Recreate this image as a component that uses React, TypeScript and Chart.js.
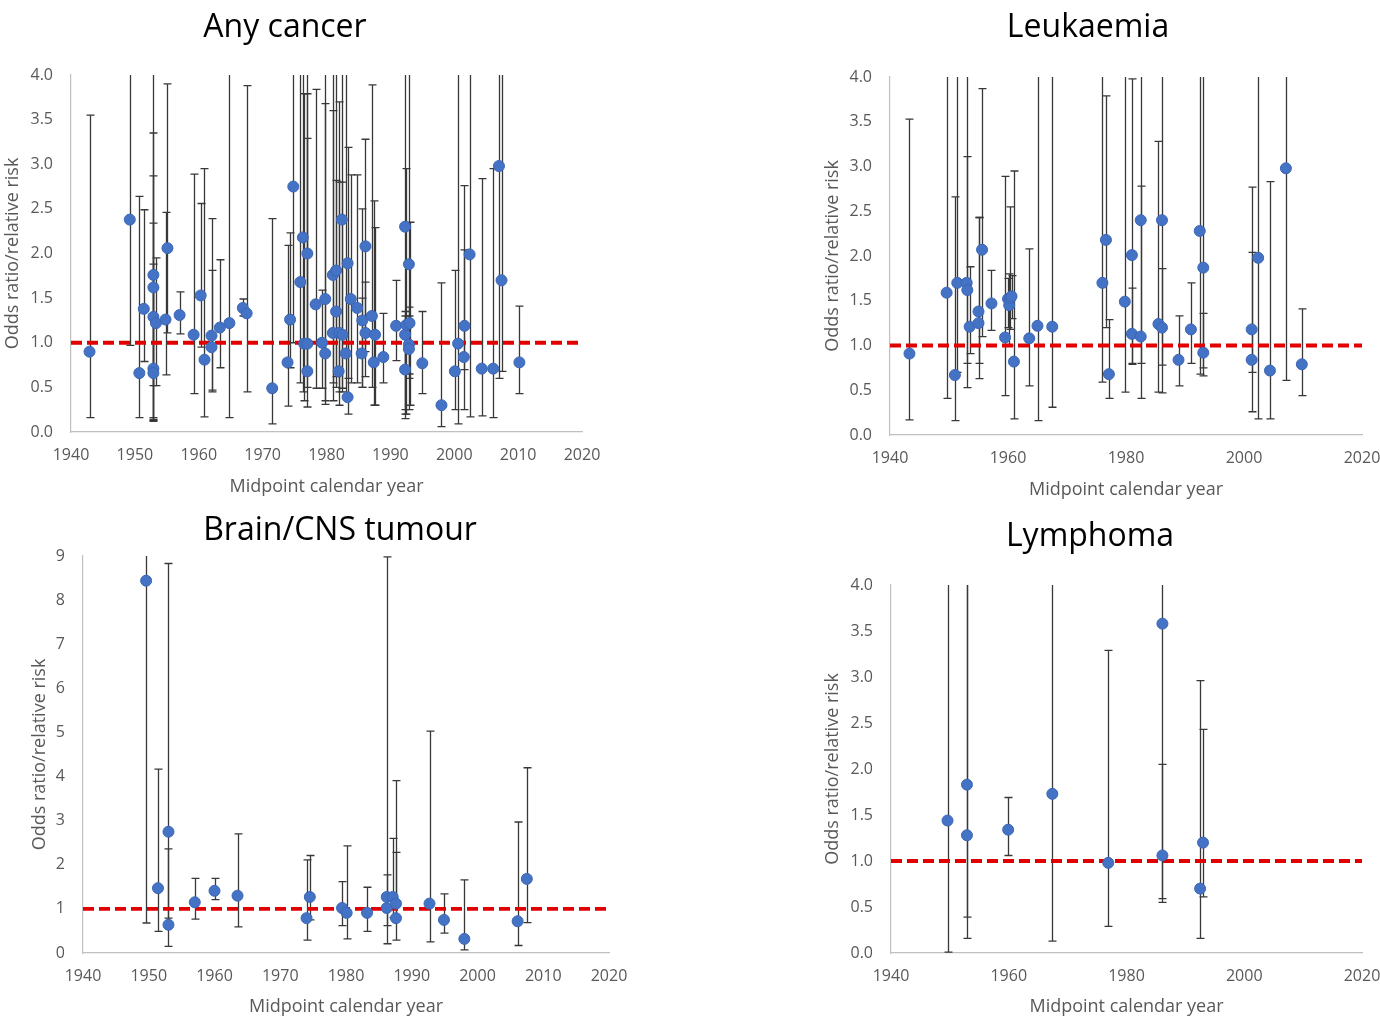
import React, { useEffect, useRef } from 'react';
import { Chart, registerables } from 'chart.js';
Chart.register(...registerables);

// ---------- Any cancer ----------
const anyYear = [
  1942.9, 1949.2, 1950.7, 1951.4, 1952.9, 1952.9, 1952.9, 1952.9, 1952.9, 1953.3,
  1954.8, 1955.1, 1957.0, 1959.2, 1960.3, 1960.9, 1962.0, 1962.0, 1963.3, 1964.8,
  1966.9, 1967.5, 1971.5, 1973.9, 1974.3, 1974.8, 1975.9, 1976.3, 1976.5, 1977.0,
  1977.0, 1977.0, 1978.3, 1979.3, 1979.8, 1979.8, 1981.0, 1981.0, 1981.5, 1981.5,
  1981.9, 1982.0, 1982.4, 1982.5, 1983.0, 1983.3, 1983.3, 1983.8, 1984.8, 1985.5,
  1985.6, 1986.1, 1986.1, 1987.1, 1987.4, 1987.6, 1988.9, 1990.9, 1992.3, 1992.3,
  1992.3, 1992.5, 1992.9, 1992.9, 1992.9, 1993.0, 1995.0, 1998.0, 2000.1, 2000.6,
  2001.5, 2001.6, 2002.4, 2004.3, 2006.1, 2007.0, 2007.4, 2010.2,
];
const anyOR = [
  0.90, 2.38, 0.66, 1.38, 1.76, 1.62, 1.29, 0.71, 0.66, 1.22,
  1.26, 2.06, 1.31, 1.09, 1.53, 0.81, 1.08, 0.95, 1.17, 1.22,
  1.39, 1.33, 0.49, 0.78, 1.26, 2.75, 1.68, 2.18, 0.99, 2.00,
  0.99, 0.68, 1.43, 1.00, 1.49, 0.88, 1.76, 1.11, 1.81, 1.35,
  0.68, 1.11, 2.38, 1.09, 0.88, 1.89, 0.39, 1.49, 1.39, 0.88,
  1.25, 2.08, 1.11, 1.30, 0.78, 1.09, 0.84, 1.19, 2.30, 1.09,
  0.70, 1.20, 1.88, 0.98, 0.93, 1.22, 0.77, 0.30, 0.68, 0.99,
  0.84, 1.19, 1.99, 0.71, 0.71, 2.98, 1.70, 0.78,
];
const anyLo = [
  0.16, 0.97, 0.16, 0.79, 0.52, 0.14, 0.16, 0.13, 0.12, 0.52,
  0.64, 1.11, 1.10, 0.43, 0.95, 0.17, 0.45, 0.47, 0.72, 0.16,
  1.30, 0.45, 0.09, 0.29, 0.72, 1.00, 0.55, 0.45, 0.35, 0.70,
  0.50, 0.28, 0.49, 0.49, 0.35, 0.31, 0.55, 0.35, 0.62, 0.50,
  0.30, 0.45, 0.45, 0.49, 0.40, 0.60, 0.20, 0.55, 0.55, 0.50,
  0.50, 0.90, 0.62, 0.50, 0.30, 0.30, 0.55, 0.80, 0.20, 0.15,
  0.25, 0.20, 0.25, 0.60, 0.65, 0.30, 0.43, 0.06, 0.25, 0.09,
  0.70, 0.25, 0.17, 0.18, 0.16, 0.60, 0.68, 0.43,
];
const anyHi = [
  3.55, 6, 2.64, 2.49, 6, 3.35, 2.87, 2.34, 1.88, 1.95,
  2.46, 3.90, 1.57, 2.89, 2.56, 2.95, 2.39, 1.81, 1.93, 6,
  1.49, 3.88, 2.39, 2.09, 2.23, 6, 6, 6, 3.79, 6,
  3.29, 3.79, 3.84, 1.59, 6, 3.68, 6, 3.60, 2.82, 6,
  3.70, 2.80, 6, 2.80, 6, 3.19, 1.90, 2.88, 2.88, 1.50,
  2.50, 3.28, 1.68, 3.89, 2.59, 2.29, 1.33, 1.70, 6, 1.30,
  1.35, 2.95, 6, 1.40, 1.30, 2.35, 1.35, 1.67, 1.81, 6,
  2.04, 2.76, 6, 2.84, 2.95, 6, 6, 1.41,
];

// ---------- Leukaemia ----------
const leuYear = [
  1943.3, 1949.6, 1951.0, 1951.4, 1953.0, 1953.1, 1953.5, 1955.0, 1955.0, 1955.6,
  1957.2, 1959.5, 1960.0, 1960.2, 1960.4, 1960.6, 1961.0, 1963.6, 1965.0, 1967.5,
  1976.0, 1976.6, 1977.1, 1979.8, 1981.0, 1981.0, 1982.5, 1982.5, 1985.5, 1986.1,
  1986.1, 1988.9, 1991.0, 1992.5, 1993.1, 1993.1, 2001.3, 2001.3, 2002.4, 2004.4,
  2007.1, 2009.8,
];
const leuOR = [
  0.91, 1.59, 0.67, 1.70, 1.70, 1.62, 1.21, 1.38, 1.25, 2.07,
  1.47, 1.09, 1.52, 1.45, 1.53, 1.55, 0.82, 1.08, 1.22, 1.21,
  1.70, 2.18, 0.68, 1.49, 2.01, 1.13, 2.40, 1.10, 1.24, 2.40,
  1.20, 0.84, 1.18, 2.28, 1.87, 0.92, 1.18, 0.84, 1.98, 0.72,
  2.98, 0.79,
];
const leuLo = [
  0.17, 0.41, 0.16, 0.70, 0.53, 0.80, 0.91, 0.63, 0.80, 1.10,
  1.17, 0.44, 1.20, 1.00, 1.18, 1.30, 0.18, 0.55, 0.16, 0.31,
  0.59, 1.20, 0.41, 0.48, 0.79, 0.80, 0.41, 0.80, 0.48, 0.47,
  0.78, 0.55, 0.80, 0.68, 0.66, 0.75, 0.26, 0.70, 0.18, 0.18,
  0.61, 0.44,
];
const leuHi = [
  3.53, 6, 2.66, 6, 6, 3.11, 1.88, 2.43, 2.43, 3.87,
  1.84, 2.89, 1.75, 1.80, 2.55, 1.78, 2.95, 2.08, 6, 6,
  6, 3.79, 1.29, 6, 3.98, 1.64, 6, 2.78, 3.28, 6,
  1.86, 1.33, 1.70, 6, 6, 1.36, 2.77, 2.04, 6, 2.83,
  6, 1.41,
];

// ---------- Brain/CNS tumour ----------
const cnsYear = [
  1949.6, 1951.4, 1953.0, 1953.0, 1957.0, 1960.0, 1963.5, 1974.0, 1974.5, 1979.4,
  1980.1, 1983.2, 1986.2, 1986.2, 1987.1, 1987.6, 1987.6, 1992.7, 1994.9, 1998.0,
  2006.1, 2007.5,
];
const cnsOR = [
  8.44, 1.47, 2.75, 0.64, 1.15, 1.41, 1.30, 0.79, 1.27, 1.02,
  0.91, 0.91, 1.27, 1.02, 1.27, 1.12, 0.79, 1.12, 0.75, 0.32,
  0.72, 1.68,
];
const cnsLo = [
  0.68, 0.49, 0.79, 0.15, 0.77, 1.21, 0.59, 0.29, 0.75, 0.62,
  0.32, 0.49, 0.21, 0.62, 0.80, 0.78, 0.29, 0.25, 0.45, 0.07,
  0.17, 0.69,
];
const cnsHi = [
  12, 4.17, 8.83, 2.36, 1.69, 1.69, 2.70, 2.11, 2.21, 1.62,
  2.43, 1.49, 8.98, 1.77, 2.60, 3.91, 2.28, 5.03, 1.34, 1.66,
  2.97, 4.20,
];

// ---------- Lymphoma ----------
const lymYear = [1949.6, 1952.9, 1952.9, 1959.9, 1967.4, 1976.9, 1986.1, 1986.1, 1992.5, 1993.0];
const lymOR = [1.44, 1.83, 1.28, 1.34, 1.73, 0.98, 3.58, 1.06, 0.70, 1.20];
const lymLo = [0.01, 0.16, 0.39, 1.06, 0.13, 0.29, 0.59, 0.55, 0.16, 0.61];
const lymHi = [6, 6, 6, 1.69, 6, 3.29, 6, 2.05, 2.96, 2.43];

const xTickYears = [1940, 1950, 1960, 1970, 1980, 1990, 2000, 2010, 2020];
const refLine = [{ x: 1940, y: 1 }, { x: 2020, y: 1 }];

const FONT = "'Open Sans', 'Liberation Sans', sans-serif";
const GREY = '#595959';
const AXIS_TITLE_SIZE = 18;

const errorBarPlugin = {
  id: 'errorBars',
  beforeDatasetsDraw(chart: any) {
    const ds = chart.data.datasets[0];
    const xS = chart.scales.x;
    const yS = chart.scales.y;
    const { ctx, chartArea } = chart;
    ctx.save();
    ctx.beginPath();
    ctx.rect(chartArea.left - 10, chartArea.top, chartArea.right - chartArea.left + 20, chartArea.bottom - chartArea.top + 1);
    ctx.clip();
    ctx.strokeStyle = '#383838';
    ctx.lineWidth = 1.3;
    const cap = 4;
    ds.data.forEach((p: any) => {
      const x = Math.round(xS.getPixelForValue(p.x)) + 0.5;
      const yl = yS.getPixelForValue(p.lo);
      const yh = yS.getPixelForValue(p.hi);
      ctx.beginPath();
      ctx.moveTo(x, yl);
      ctx.lineTo(x, yh);
      ctx.moveTo(x - cap, yl);
      ctx.lineTo(x + cap, yl);
      if (p.hi <= yS.max) {
        ctx.moveTo(x - cap, yh);
        ctx.lineTo(x + cap, yh);
      }
      ctx.stroke();
    });
    ctx.restore();
  },
};

type PanelCfg = {
  title: string;
  titleX: number;
  titleY: number;
  canvas: { left: number; top: number; w: number; h: number };
  area: { left: number; top: number; right: number; bottom: number };
  yTitleX: number;
  xTitleY: number;
  years: number[];
  or: number[];
  lo: number[];
  hi: number[];
  yMax: number;
  yStep: number;
  yDecimals: number;
  xStep: number;
};

const panels: PanelCfg[] = [
  {
    title: 'Any cancer', titleX: 285, titleY: 25,
    canvas: { left: 0, top: 0, w: 600, h: 510 },
    area: { left: 71, top: 75, right: 582, bottom: 432 },
    yTitleX: 13, xTitleY: 487,
    years: anyYear, or: anyOR, lo: anyLo, hi: anyHi,
    yMax: 4, yStep: 0.5, yDecimals: 1, xStep: 10,
  },
  {
    title: 'Leukaemia', titleX: 1088, titleY: 25,
    canvas: { left: 820, top: 0, w: 560, h: 515 },
    area: { left: 890, top: 77, right: 1362, bottom: 435 },
    yTitleX: 833, xTitleY: 490,
    years: leuYear, or: leuOR, lo: leuLo, hi: leuHi,
    yMax: 4, yStep: 0.5, yDecimals: 1, xStep: 20,
  },
  {
    title: 'Brain/CNS tumour', titleX: 340, titleY: 528,
    canvas: { left: 0, top: 510, w: 640, h: 519 },
    area: { left: 83, top: 556, right: 609, bottom: 953 },
    yTitleX: 40, xTitleY: 1007,
    years: cnsYear, or: cnsOR, lo: cnsLo, hi: cnsHi,
    yMax: 9, yStep: 1, yDecimals: 0, xStep: 10,
  },
  {
    title: 'Lymphoma', titleX: 1090, titleY: 534,
    canvas: { left: 820, top: 510, w: 560, h: 519 },
    area: { left: 891, top: 585, right: 1362, bottom: 953 },
    yTitleX: 833, xTitleY: 1007,
    years: lymYear, or: lymOR, lo: lymLo, hi: lymHi,
    yMax: 4, yStep: 0.5, yDecimals: 1, xStep: 20,
  },
];

function Panel({ cfg }: { cfg: PanelCfg }) {
  const ref = useRef<HTMLCanvasElement>(null);
  useEffect(() => {
    const { canvas, area } = cfg;
    const yWidth = area.left - canvas.left;
    const xHeight = canvas.top + canvas.h - area.bottom;
    const lh = AXIS_TITLE_SIZE * 1.2;
    const points = cfg.years.map((x, i) => ({ x, y: cfg.or[i], lo: cfg.lo[i], hi: cfg.hi[i] }));
    const chart = new Chart(ref.current as HTMLCanvasElement, {
      type: 'scatter',
      data: {
        datasets: [
          {
            type: 'scatter',
            data: points as any,
            pointStyle: 'circle',
            pointRadius: 5.5,
            pointBackgroundColor: '#4472C4',
            pointBorderColor: '#3B66B5',
            pointBorderWidth: 1,
            order: 0,
          },
          {
            type: 'line',
            data: refLine,
            borderColor: '#E00000',
            borderWidth: 3.8,
            borderDash: [11, 5],
            pointRadius: 0,
            order: 1,
          } as any,
        ],
      },
      options: {
        responsive: false,
        animation: false,
        devicePixelRatio: 1,
        layout: {
          padding: {
            top: area.top - canvas.top,
            right: canvas.left + canvas.w - area.right,
            left: 0,
            bottom: 0,
          },
        },
        plugins: { legend: { display: false }, tooltip: { enabled: false }, title: { display: false } },
        scales: {
          x: {
            type: 'linear',
            min: 1940,
            max: 2020,
            afterFit: (s: any) => {
              s.height = xHeight;
              s.paddingLeft = 0;
              s.paddingRight = 0;
            },
            afterBuildTicks: (s: any) => {
              s.ticks = xTickYears.filter((v) => (v - 1940) % cfg.xStep === 0).map((v) => ({ value: v }));
            },
            ticks: {
              color: GREY,
              font: { family: FONT, size: 16 },
              padding: 14,
              maxRotation: 0,
              callback: (v: any) => String(v),
            },
            grid: { display: false, drawTicks: false },
            border: { display: true, color: '#BFBFBF', width: 1.2 },
            title: {
              display: true,
              text: 'Midpoint calendar year',
              color: GREY,
              font: { family: FONT, size: AXIS_TITLE_SIZE },
              padding: { top: 0, bottom: canvas.top + canvas.h - cfg.xTitleY - lh / 2 },
            },
          },
          y: {
            type: 'linear',
            min: 0,
            max: cfg.yMax,
            afterFit: (s: any) => {
              s.width = yWidth;
            },
            ticks: {
              stepSize: cfg.yStep,
              color: GREY,
              font: { family: FONT, size: 16 },
              padding: 18,
              callback: (v: any) => Number(v).toFixed(cfg.yDecimals),
            },
            grid: { display: false, drawTicks: false },
            border: { display: true, color: '#BFBFBF', width: 1.2 },
            title: {
              display: true,
              text: 'Odds ratio/relative risk',
              color: GREY,
              font: { family: FONT, size: AXIS_TITLE_SIZE },
              padding: { top: cfg.yTitleX - canvas.left - lh / 2, bottom: 0 },
            },
          },
        },
      } as any,
      plugins: [errorBarPlugin],
    });
    return () => chart.destroy();
  }, [cfg]);
  return (
    <>
      <canvas
        ref={ref}
        width={cfg.canvas.w}
        height={cfg.canvas.h}
        style={{ position: 'absolute', left: cfg.canvas.left, top: cfg.canvas.top, width: cfg.canvas.w, height: cfg.canvas.h }}
      />
      <div
        style={{
          position: 'absolute',
          left: cfg.titleX,
          top: cfg.titleY,
          transform: 'translate(-50%, -50%)',
          fontFamily: FONT,
          fontSize: 32,
          color: '#000',
          whiteSpace: 'nowrap',
          lineHeight: 1,
        }}
      >
        {cfg.title}
      </div>
    </>
  );
}

export default function App() {
  return (
    <div style={{ position: 'absolute', left: 0, top: 0, width: 1380, height: 1029, background: '#fff' }}>
      {panels.map((p) => (
        <Panel key={p.title} cfg={p} />
      ))}
    </div>
  );
}
